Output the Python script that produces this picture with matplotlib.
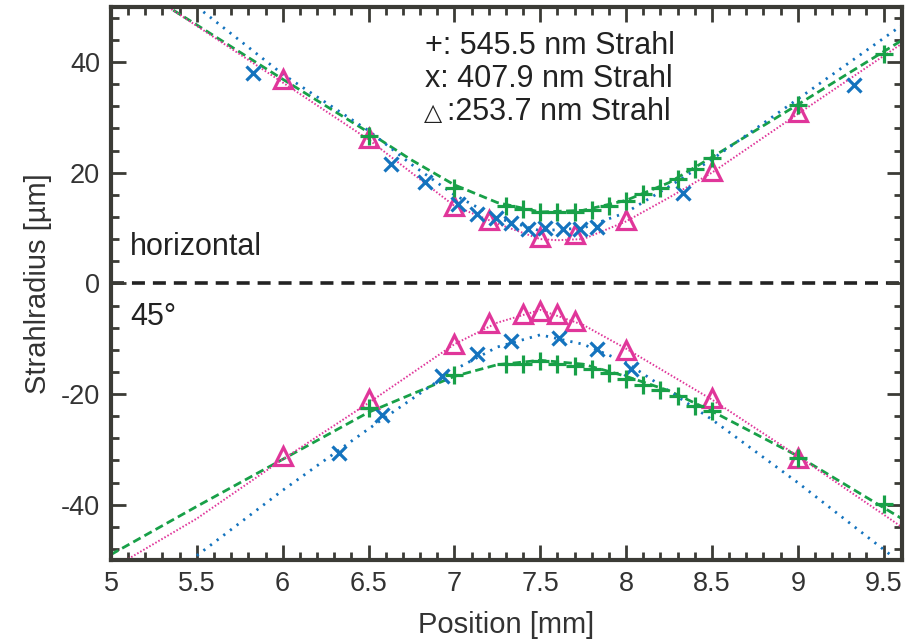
import matplotlib
matplotlib.use("Agg")
import matplotlib.pyplot as plt
from matplotlib.ticker import MultipleLocator

plt.rcParams['font.family'] = ['Liberation Sans', 'DejaVu Sans']
plt.rcParams['axes.unicode_minus'] = False

# horizontal beam radius (upper half)
h_green_x = [6.5, 7.0, 7.3, 7.4, 7.5, 7.6, 7.7, 7.8, 7.9, 8.0, 8.1, 8.2, 8.3, 8.4, 8.5, 9.0, 9.5]
h_green_y = [26.6, 17.3, 14.0, 13.5, 12.9, 12.9, 12.9, 13.3, 13.9, 14.9, 16.1, 17.3, 18.8, 20.6, 22.7, 32.2, 41.4]
h_blue_x = [5.83, 6.63, 6.83, 7.02, 7.13, 7.24, 7.33, 7.43, 7.53, 7.63, 7.73, 7.83, 8.33, 9.33]
h_blue_y = [38.0, 21.6, 18.3, 14.3, 12.5, 11.9, 10.9, 9.9, 10.0, 9.9, 9.9, 10.2, 16.4, 35.8]
h_mag_x = [6.0, 6.5, 7.0, 7.2, 7.5, 7.7, 8.0, 8.5, 9.0]
h_mag_y = [36.9, 26.3, 14.0, 11.4, 8.4, 8.9, 11.5, 20.3, 30.9]

# 45 degree beam radius (lower half, plotted negative)
d_green_x = [6.5, 7.0, 7.3, 7.4, 7.5, 7.6, 7.7, 7.8, 7.9, 8.0, 8.1, 8.2, 8.3, 8.4, 8.5, 9.0, 9.5]
d_green_y = [-22.5, -16.5, -14.6, -14.6, -14.0, -14.6, -15.0, -15.5, -16.2, -17.2, -18.3, -19.2, -20.4, -22.1, -23.1, -31.5, -39.8]
d_blue_x = [6.33, 6.58, 6.93, 7.13, 7.33, 7.61, 7.83, 8.03]
d_blue_y = [-30.7, -23.7, -16.8, -12.8, -10.5, -9.8, -11.9, -15.4]
d_mag_x = [6.0, 6.5, 7.0, 7.2, 7.4, 7.5, 7.6, 7.7, 8.0, 8.5, 9.0]
d_mag_y = [-31.2, -20.9, -10.9, -7.2, -5.6, -5.0, -5.6, -6.8, -12.0, -20.8, -31.5]

fit_h_green_x = [5.3, 5.5, 6.0, 6.5, 6.75, 7.0, 7.25, 7.5, 7.75, 8.0, 8.25, 8.5, 9.0, 9.6]
fit_h_green_y = [50.6, 46.7, 36.9, 27.3, 22.3, 17.8, 14.6, 12.9, 13.2, 15.0, 18.2, 22.8, 32.3, 43.8]
fit_h_blue_x = [5.5, 6.0, 6.5, 6.75, 7.0, 7.25, 7.5, 7.75, 8.0, 8.25, 8.5, 9.0, 9.6]
fit_h_blue_y = [50.0, 37.8, 27.6, 21.5, 16.0, 11.8, 9.5, 10.0, 12.8, 17.5, 22.4, 33.3, 46.5]
fit_h_mag_x = [5.3, 6.0, 6.5, 7.0, 7.25, 7.5, 7.6, 7.75, 8.0, 8.25, 8.5, 9.0, 9.6]
fit_h_mag_y = [50.6, 36.3, 26.0, 14.0, 10.8, 8.0, 7.8, 8.0, 11.2, 15.5, 20.0, 30.6, 43.2]

fit_d_green_x = [5.0, 5.5, 6.0, 6.5, 7.0, 7.25, 7.5, 7.75, 8.0, 8.25, 8.5, 9.0, 9.6]
fit_d_green_y = [-49.0, -40.3, -31.8, -23.3, -16.8, -14.7, -13.9, -14.6, -16.8, -19.4, -23.1, -31.2, -42.4]
fit_d_blue_x = [5.5, 6.0, 6.5, 7.0, 7.25, 7.5, 7.75, 8.0, 8.5, 9.0, 9.55]
fit_d_blue_y = [-49.2, -37.4, -26.3, -15.6, -11.5, -9.3, -11.0, -14.3, -24.6, -36.0, -49.3]
fit_d_mag_x = [5.1, 5.5, 6.0, 6.5, 7.0, 7.25, 7.5, 7.75, 8.0, 8.5, 9.0, 9.6]
fit_d_mag_y = [-49.8, -42.5, -31.8, -21.6, -11.0, -7.1, -4.8, -7.5, -11.8, -21.0, -31.2, -43.9]

legend_lines = ["+: 545.5 nm Strahl", "x: 407.9 nm Strahl", ":253.7 nm Strahl"]

green = "#18a048"
blue = "#1473be"
magenta = "#e0369a"
frame = "#3b3b36"
txt = "#222222"

fig = plt.figure(figsize=(9.12, 6.43), dpi=100)
ax = fig.add_axes([0.1217, 0.129, 0.8673, 0.8606])

ax.axhline(0, color=txt, lw=2.6, ls=(0, (3.6, 2.2)), zorder=1)

for xs, ys in [(fit_h_green_x, fit_h_green_y), (fit_d_green_x, fit_d_green_y)]:
    ax.plot(xs, ys, color=green, lw=2.0, ls=(0, (3, 1.6)), zorder=2)
for xs, ys in [(fit_h_blue_x, fit_h_blue_y), (fit_d_blue_x, fit_d_blue_y)]:
    ax.plot(xs, ys, color=blue, lw=2.0, ls=(0, (0.8, 2.2)), zorder=2)
for xs, ys in [(fit_h_mag_x, fit_h_mag_y), (fit_d_mag_x, fit_d_mag_y)]:
    ax.plot(xs, ys, color=magenta, lw=1.4, ls=(0, (0.8, 1.0)), zorder=2)

for xs, ys in [(h_mag_x, h_mag_y), (d_mag_x, d_mag_y)]:
    ax.plot(xs, ys, ls="none", marker="^", ms=13, mfc="none", mec=magenta, mew=2.3, zorder=3)
for xs, ys in [(h_blue_x, h_blue_y), (d_blue_x, d_blue_y)]:
    ax.plot(xs, ys, ls="none", marker="x", ms=10.5, mec=blue, mew=2.3, zorder=4)
for xs, ys in [(h_green_x, h_green_y), (d_green_x, d_green_y)]:
    ax.plot(xs, ys, ls="none", marker="+", ms=13.5, mec=green, mew=2.3, zorder=4)

ax.text(6.83, 42.9, legend_lines[0], fontsize=22, color=txt, ha="left", va="center")
ax.text(6.83, 36.9, legend_lines[1], fontsize=22, color=txt, ha="left", va="center")
ax.text(6.82, 30.6, "\u25b3", fontsize=17, color=txt, ha="left", va="center")
ax.text(6.955, 30.9, legend_lines[2], fontsize=22, color=txt, ha="left", va="center")
ax.text(5.11, 6.6, "horizontal", fontsize=22, color=txt, ha="left", va="center")
ax.text(5.11, -6.0, "45\u00b0", fontsize=22, color=txt, ha="left", va="center")

ax.set_xlim(5, 9.607)
ax.set_ylim(-50, 50)
ax.set_xticks([5, 5.5, 6, 6.5, 7, 7.5, 8, 8.5, 9, 9.5])
ax.set_xticklabels(["5", "5.5", "6", "6.5", "7", "7.5", "8", "8.5", "9", "9.5"])
ax.xaxis.set_minor_locator(MultipleLocator(0.1))
ax.yaxis.set_major_locator(MultipleLocator(20))
ax.yaxis.set_minor_locator(MultipleLocator(4))

ax.tick_params(which="both", direction="in", top=True, right=True, color=frame,
               labelsize=19.5, labelcolor="#333333")
ax.tick_params(which="major", length=11, width=2.0, pad=8)
ax.tick_params(which="minor", length=5.5, width=2.0)
for sp in ax.spines.values():
    sp.set_color(frame)
    sp.set_linewidth(3.0)

ax.set_xlabel("Position [mm]", fontsize=21, color="#333333", labelpad=10)
ax.set_ylabel("Strahlradius [\u00b5m]", fontsize=21, color="#333333", labelpad=6)

fig.savefig("out.png", dpi=100)
